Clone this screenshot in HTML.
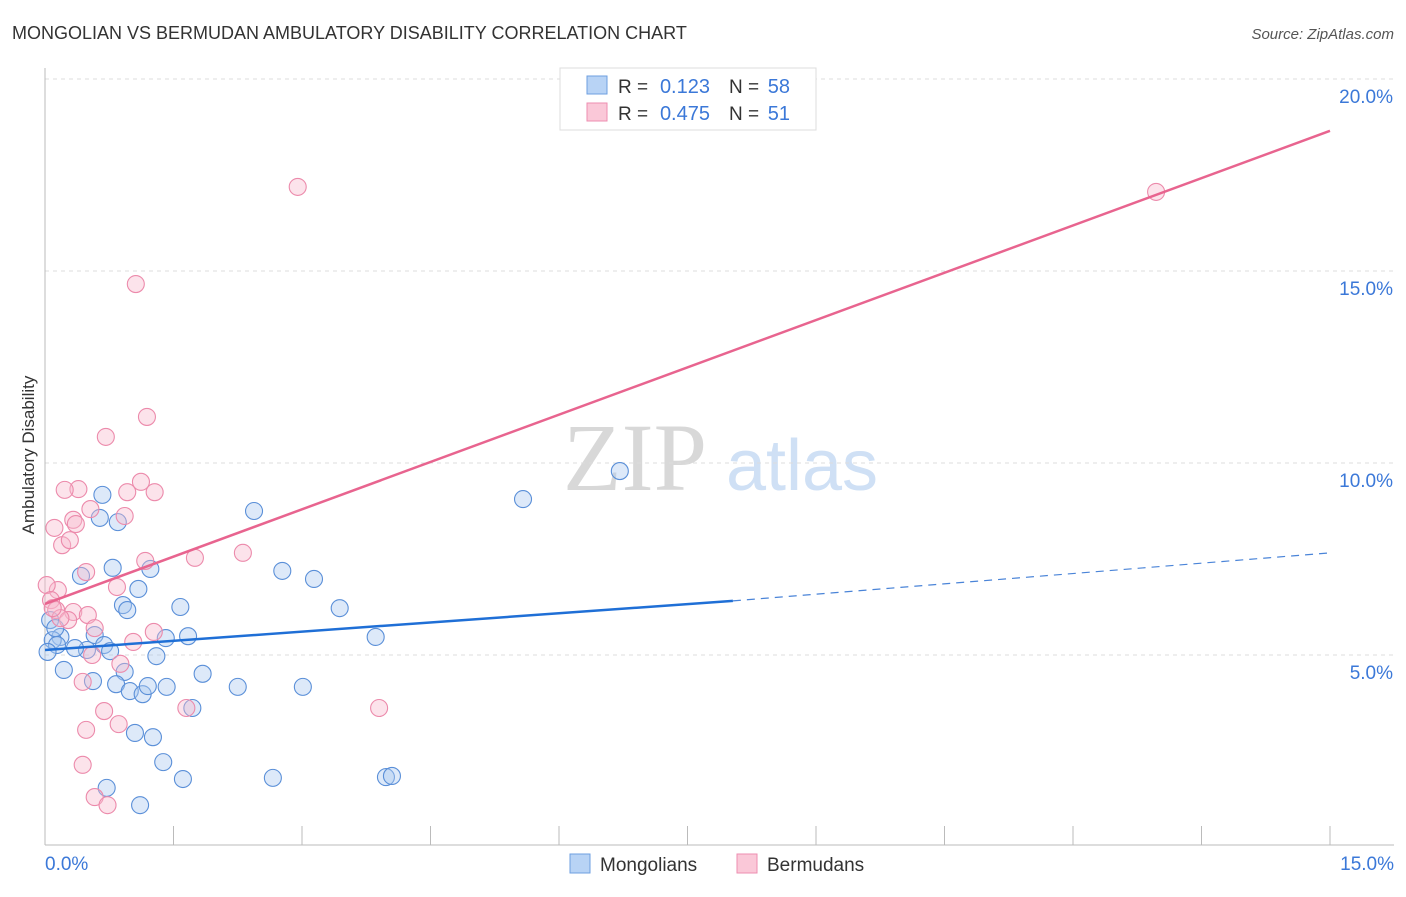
<!DOCTYPE html>
<html><head><meta charset="utf-8"><style>
body{margin:0;background:#fff;font-family:"Liberation Sans",sans-serif}
</style></head><body>
<svg id="chart" width="1406" height="892" font-family="Liberation Sans, sans-serif">
<text x="12" y="39" font-size="18" fill="#333">MONGOLIAN VS BERMUDAN AMBULATORY DISABILITY CORRELATION CHART</text>
<text x="1394" y="39" font-size="15" fill="#555" font-style="italic" text-anchor="end">Source: ZipAtlas.com</text>
<text x="34" y="455" font-size="17" fill="#333" transform="rotate(-90 34 455)" text-anchor="middle">Ambulatory Disability</text>
<g><text x="635" y="490" font-size="96" fill="#d8d8d8" style="font-family:'Liberation Serif',serif" text-anchor="middle">ZIP</text><text x="802" y="490" font-size="72" fill="#cfe0f5" text-anchor="middle">atlas</text></g>
<g id="grid"></g><g id="axes"></g><g id="marks"></g>
<g>
<rect x="560" y="68" width="256" height="62" fill="#fff" stroke="#ddd"/>
<rect x="587" y="76" width="20" height="18" fill="#b8d3f5" stroke="#6e9fe0"/>
<rect x="587" y="103" width="20" height="18" fill="#fac8d8" stroke="#ee8eb0"/>
<text x="618" y="93" font-size="19" fill="#333">R =</text>
<text x="710" y="93" font-size="20" fill="#3b78d8" text-anchor="end">0.123</text>
<text x="729" y="93" font-size="19" fill="#333">N =</text>
<text x="790" y="93" font-size="20" fill="#3b78d8" text-anchor="end">58</text>
<text x="618" y="120" font-size="19" fill="#333">R =</text>
<text x="710" y="120" font-size="20" fill="#3b78d8" text-anchor="end">0.475</text>
<text x="729" y="120" font-size="19" fill="#333">N =</text>
<text x="790" y="120" font-size="20" fill="#3b78d8" text-anchor="end">51</text>
</g>
<g>
<rect x="570" y="854" width="20" height="19" fill="#b8d3f5" stroke="#6e9fe0"/>
<text x="600" y="871" font-size="19" fill="#333">Mongolians</text>
<rect x="737" y="854" width="20" height="19" fill="#fac8d8" stroke="#ee8eb0"/>
<text x="767" y="871" font-size="19" fill="#333">Bermudans</text>
</g>
</svg>
<script>
const yTicks=[5,10,15,20];
const yTickLabels=["5.0%","10.0%","15.0%","20.0%"];
const xLabels=["0.0%","15.0%"];
const blueX=[6.71,5.58,2.44,0.67,0.64,0.85,0.79,1.23,2.77,3.14,0.42,1.09,0.91,0.96,1.58,3.44,3.86,1.67,1.41,0.58,0.18,0.09,0.49,0.69,0.76,0.35,0.14,0.03,1.30,0.22,0.93,1.84,0.56,0.83,0.99,1.14,1.20,1.42,2.25,3.01,1.72,1.05,1.26,1.38,1.61,2.66,3.98,4.05,0.72,1.11,0.06,0.12];
const blueY=[9.79,9.06,8.75,9.17,8.57,8.46,7.27,7.24,7.19,6.98,7.06,6.72,6.30,6.17,6.25,6.22,5.47,5.49,5.44,5.52,5.47,5.39,5.13,5.26,5.10,5.18,5.26,5.08,4.97,4.61,4.56,4.51,4.32,4.24,4.06,3.98,4.19,4.17,4.17,4.17,3.62,2.97,2.86,2.21,1.77,1.80,1.82,1.85,1.54,1.09,5.91,5.70];
const pinkX=[2.95,12.97,1.06,1.19,0.71,0.39,0.23,0.96,1.12,1.28,0.11,0.33,0.36,0.53,0.93,0.20,0.29,1.17,1.75,2.31,0.48,0.84,0.15,0.02,0.07,0.13,0.33,0.50,0.27,0.58,1.27,1.03,0.55,0.88,0.44,1.65,3.90,0.69,0.86,0.48,0.44,0.58,0.73,0.18,0.09];
const pinkY=[17.19,17.06,14.66,11.20,10.68,9.32,9.30,9.24,9.51,9.24,8.31,8.52,8.41,8.80,8.62,7.86,7.99,7.45,7.53,7.66,7.16,6.77,6.69,6.82,6.43,6.17,6.12,6.04,5.91,5.70,5.60,5.34,5.00,4.77,4.30,3.62,3.62,3.54,3.20,3.05,2.14,1.30,1.09,5.96,6.22];
const blueLine=[[0,5.13],[8.03,6.41]];
const blueDash=[[8.03,6.41],[15,7.66]];
const pinkLine=[[0,6.33],[15,18.65]];
const NS="http://www.w3.org/2000/svg";
const sx=v=>45+v/15*1285, sy=v=>847-v*38.4;
function mk(t,a,p){const e=document.createElementNS(NS,t);for(const k in a)e.setAttribute(k,a[k]);p.appendChild(e);return e;}
const grid=document.getElementById('grid'),axes=document.getElementById('axes'),marks=document.getElementById('marks');
yTicks.forEach((t,i)=>{
 const l=mk('line',{x1:45,x2:1394,y1:sy(t),y2:sy(t),stroke:'#ddd','stroke-dasharray':'4,4'},grid);
 
 
 const tx=mk('text',{x:1393,y:sy(t)+24,'font-size':19,fill:'#3b78d8','text-anchor':'end'},axes);
 tx.textContent=yTickLabels[i];
 
 
});
const ax=mk('line',{x1:45,x2:45,y1:68,y2:845,stroke:'#bbb'},axes);


const bx=mk('line',{x1:45,x2:1394,y1:845,y2:845,stroke:'#bbb'},axes);


for(let i=1;i<=10;i++){const x=45+i*128.5;const t=mk('line',{x1:x,x2:x,y1:826,y2:845,stroke:'#bbb'},axes);
 
 }
[[0,'start',45],[15,'end',1394]].forEach((d,i)=>{const t=mk('text',{x:d[2],y:870,'font-size':19,fill:'#3b78d8','text-anchor':d[1]},axes);t.textContent=xLabels[i];
 
 });
function pts(X,Y,fill,stroke,name){X.forEach((x,i)=>{const c=mk('circle',{cx:sx(x),cy:sy(Y[i]),r:8.5,fill:fill,'fill-opacity':0.4,stroke:stroke,'stroke-width':1.1},marks);
 
 });}
pts(blueX,blueY,'#a9c8f0','#5a8fd8','mongolian-point');
pts(pinkX,pinkY,'#f8b9cd','#ec8aab','bermudan-point');
function ln(p,st,w,dash,name){const l=mk('line',{x1:sx(p[0][0]),y1:sy(p[0][1]),x2:sx(p[1][0]),y2:sy(p[1][1]),stroke:st,'stroke-width':w},marks);if(dash)l.setAttribute('stroke-dasharray',dash);
 
 }
ln(blueLine,'#1f6fd6',2.5,null,'mongolian-trend-line');
ln(blueDash,'#4a84d8',1.2,'8,6','mongolian-trend-extension');
ln(pinkLine,'#e8648f',2.5,null,'bermudan-trend-line');
</script>
</body></html>
